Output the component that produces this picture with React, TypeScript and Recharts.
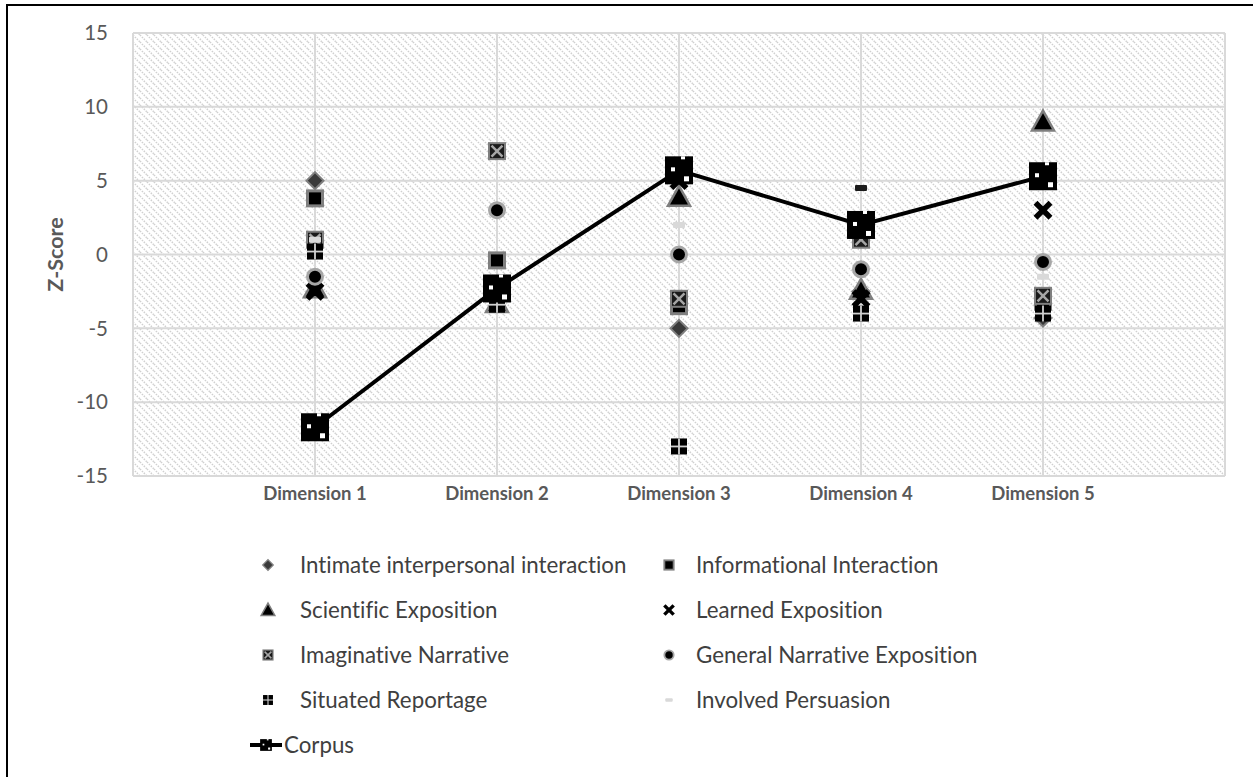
import React from 'react';
import { ScatterChart, Scatter, XAxis, YAxis, CartesianGrid, Cell, Label } from 'recharts';

const dimensions = ['Dimension 1', 'Dimension 2', 'Dimension 3', 'Dimension 4', 'Dimension 5'];
const dimX = [1, 2, 3, 4, 5];
const xTicks = [0, 1, 2, 3, 4, 5, 6];
const yTicks = [-15, -10, -5, 0, 5, 10, 15];

const intimate = [5, -2.8, -5, -2.5, -4.3];
const informational = [3.8, -0.4, -3.5, 1.8, -3.2];
const scientific = [-2.3, -3.3, 3.9, -2.4, 9];
const learned = [-2.5, -2.5, 5, -3, 3];
const imaginative = [1, 7, -3, 1, -2.8];
const generalNarr = [-1.5, 3, 0, -1, -0.5];
const situated = [0.2, -3.4, -13, -4, -4];
const involved = [1, -2.5, 2, 4.5, -1.5];
const corpus = [-11.7, -2.3, 5.7, 2, 5.3];
const involvedColors = ['#d9d9d9', '#d9d9d9', '#d9d9d9', '#1a1a1a', '#d9d9d9'];

const seriesNames = [
  'Intimate interpersonal interaction',
  'Informational Interaction',
  'Scientific Exposition',
  'Learned Exposition',
  'Imaginative Narrative',
  'General Narrative Exposition',
  'Situated Reportage',
  'Involved Persuasion',
  'Corpus',
];

const toPoints = (vals: number[]) => vals.map((v, i) => ({ x: dimX[i], y: v }));

type S = { cx: number; cy: number; k?: number; fill?: string };

const Diamond = ({ cx, cy, k = 1 }: S) => {
  const r = 8.5 * k;
  return <polygon points={`${cx},${cy - r} ${cx + r},${cy} ${cx},${cy + r} ${cx - r},${cy}`} fill="#3a3a3a" stroke="#7f7f7f" strokeWidth={2 * k} />;
};
const SquareM = ({ cx, cy, k = 1 }: S) => {
  const h = 7.5 * k;
  return <rect x={cx - h} y={cy - h} width={2 * h} height={2 * h} fill="#000" stroke="#7f7f7f" strokeWidth={3 * k} />;
};
const Triangle = ({ cx, cy, k = 1 }: S) => {
  const r = 11 * k;
  return <polygon points={`${cx},${cy - r} ${cx + r},${cy + r * 0.8} ${cx - r},${cy + r * 0.8}`} fill="#000" stroke="#7f7f7f" strokeWidth={2.5 * k} />;
};
const XMark = ({ cx, cy, k = 1 }: S) => {
  const r = 7.5 * k;
  return (
    <g stroke="#000" strokeWidth={5.5 * k}>
      <line x1={cx - r} y1={cy - r} x2={cx + r} y2={cy + r} />
      <line x1={cx - r} y1={cy + r} x2={cx + r} y2={cy - r} />
    </g>
  );
};
const Imag = ({ cx, cy, k = 1 }: S) => {
  const h = 8 * k;
  return (
    <g>
      <rect x={cx - h} y={cy - h} width={2 * h} height={2 * h} fill="#1a1a1a" stroke="#7f7f7f" strokeWidth={2 * k} />
      <line x1={cx - h + 2.5 * k} y1={cy - h + 2.5 * k} x2={cx + h - 2.5 * k} y2={cy + h - 2.5 * k} stroke="#a6a6a6" strokeWidth={2.5 * k} />
      <line x1={cx - h + 2.5 * k} y1={cy + h - 2.5 * k} x2={cx + h - 2.5 * k} y2={cy - h + 2.5 * k} stroke="#a6a6a6" strokeWidth={2.5 * k} />
    </g>
  );
};
const CircleM = ({ cx, cy, k = 1 }: S) => <circle cx={cx} cy={cy} r={7.5 * k} fill="#000" stroke="#a6a6a6" strokeWidth={3 * k} />;
const Situated = ({ cx, cy, k = 1 }: S) => {
  const h = 8 * k;
  return (
    <g>
      <rect x={cx - h} y={cy - h} width={2 * h} height={2 * h} fill="#000" />
      <line x1={cx} y1={cy - h} x2={cx} y2={cy + h} stroke="#d0d0d0" strokeWidth={1.8 * k} />
      <line x1={cx - h} y1={cy} x2={cx + h} y2={cy} stroke="#d0d0d0" strokeWidth={1.8 * k} />
    </g>
  );
};
const Dash = ({ cx, cy, k = 1, fill = '#d9d9d9' }: S) => <rect x={cx - 6 * k} y={cy - 3 * k} width={12 * k} height={6 * k} fill={fill} rx={1} />;
const CorpusM = ({ cx, cy, k = 1 }: S) => {
  const h = 14 * k;
  return (
    <g>
      <rect x={cx - h} y={cy - h} width={2 * h} height={2 * h} fill="#000" />
      <rect x={cx + 2 * k} y={cy - h} width={4 * k} height={3 * k} fill="#fff" />
      <rect x={cx - 8 * k} y={cy - 3 * k} width={4 * k} height={4 * k} fill="#fff" />
      <rect x={cx + 5 * k} y={cy + 6 * k} width={5 * k} height={5 * k} fill="#fff" />
    </g>
  );
};

const shapes = [Diamond, SquareM, Triangle, XMark, Imag, CircleM, Situated, Dash, CorpusM];
const seriesData = [intimate, informational, scientific, learned, imaginative, generalNarr, situated, involved, corpus];

const legendRows = [
  [0, 1],
  [2, 3],
  [4, 5],
  [6, 7],
];
const legendY = [565, 610, 655, 700, 745];

const legendText: React.CSSProperties = {
  position: 'absolute',
  fontSize: 22.3,
  lineHeight: '28px',
  color: '#404040',
  whiteSpace: 'nowrap',
  fontVariantLigatures: 'none',
};

const ZLabel = (props: any) => {
  const vb = props.viewBox || { x: 73, y: 33, width: 60, height: 443 };
  const cy = vb.y + vb.height / 2;
  return (
    <text x={55} y={cy} transform={`rotate(-90 55 ${cy})`} textAnchor="middle" dominantBaseline="central" fill="#595959" fontSize={21.5} fontWeight={700}>
      Z-Score
    </text>
  );
};

export default function App() {
  return (
    <div style={{ position: 'absolute', left: 0, top: 0, width: 1253, height: 777, overflow: 'hidden', background: '#fff', fontFamily: 'Lato, "Open Sans", sans-serif' }}>
      <div style={{ position: 'absolute', left: 6, top: 4, width: 1400, height: 900, border: '2px solid #000' }} />
      <div style={{ position: 'absolute', left: 0, top: 0 }}>
        <ScatterChart width={1253} height={777} margin={{ top: 33, right: 28, left: 73, bottom: 271 }}>
          <defs>
            <pattern id="hatch" patternUnits="userSpaceOnUse" width="7" height="7">
              <path d="M0,0 L7,7 M-2,5 L2,9 M5,-2 L9,2" stroke="#d0d0d0" strokeWidth="1.5" strokeDasharray="1.5 1.2" />
            </pattern>
          </defs>
          <CartesianGrid fill="url(#hatch)" stroke="#d9d9d9" strokeWidth={2} />
          <XAxis
            type="number"
            dataKey="x"
            domain={[0, 6]}
            ticks={xTicks}
            height={30}
            tickLine={false}
            axisLine={false}
            tickSize={0}
            tickMargin={11}
            tickFormatter={(v: number) => (v >= 1 && v <= 5 ? dimensions[v - 1] : '')}
            tick={{ fill: '#595959', fontSize: 18.5, fontWeight: 700, style: { fontVariantLigatures: 'none' } }}
          />
          <YAxis
            type="number"
            dataKey="y"
            domain={[-15, 15]}
            ticks={yTicks}
            width={60}
            tickLine={false}
            axisLine={false}
            tickSize={0}
            tickMargin={25}
            tick={{ fill: '#595959', fontSize: 20.5 }}
          >
            <Label content={ZLabel} />
          </YAxis>
          {seriesData.slice(0, 8).map((vals, si) => {
            const Shape = shapes[si];
            return (
              <Scatter
                key={si}
                name={seriesNames[si]}
                data={toPoints(vals)}
                isAnimationActive={false}
                shape={(p: any) => <Shape cx={p.cx} cy={p.cy} fill={p.fill} />}
              >
                {si === 7 ? vals.map((_, i) => <Cell key={i} fill={involvedColors[i]} />) : null}
              </Scatter>
            );
          })}
          <Scatter
            name={seriesNames[8]}
            data={toPoints(corpus)}
            isAnimationActive={false}
            line={{ stroke: '#000', strokeWidth: 4 }}
            lineType="joint"
            fill="#000"
            shape={(p: any) => <CorpusM cx={p.cx} cy={p.cy} />}
          />
        </ScatterChart>
      </div>
      {legendRows.map((row, ri) =>
        row.map((si, ci) => {
          const Shape = shapes[si];
          const mx = ci === 0 ? 268 : 669;
          const tx = ci === 0 ? 300 : 696;
          return (
            <React.Fragment key={`${ri}-${ci}`}>
              <svg style={{ position: 'absolute', left: mx - 10, top: legendY[ri] - 10 }} width={20} height={20}>
                <Shape cx={10} cy={10} k={0.62} />
              </svg>
              <div style={{ ...legendText, left: tx, top: legendY[ri] - 14 }}>{seriesNames[si]}</div>
            </React.Fragment>
          );
        })
      )}
      <svg style={{ position: 'absolute', left: 248, top: legendY[4] - 12 }} width={36} height={24}>
        <line x1={2} y1={12} x2={34} y2={12} stroke="#000" strokeWidth={4} />
        <CorpusM cx={18} cy={12} k={0.42} />
      </svg>
      <div style={{ ...legendText, left: 284, top: legendY[4] - 14 }}>{seriesNames[8]}</div>
    </div>
  );
}
